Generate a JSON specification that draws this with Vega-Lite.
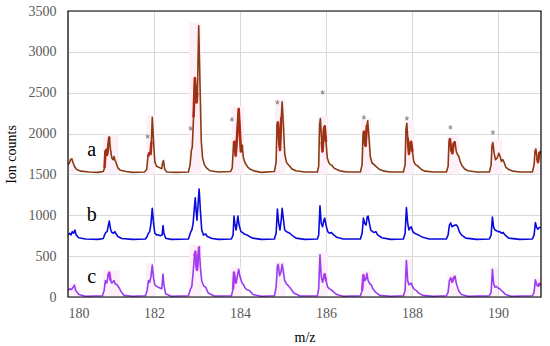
{
  "$schema": "https://vega.github.io/schema/vega-lite/v6.json",
  "autosize": {"type": "none"},
  "width": 473,
  "height": 286,
  "padding": {"left": 68, "top": 11, "right": 9, "bottom": 49},
  "background": "white",
  "config": {
    "view": {"stroke": null},
    "font": "Liberation Serif",
    "axis": {
      "labelFont": "Liberation Serif",
      "titleFont": "Liberation Serif",
      "labelFontSize": 14,
      "titleFontSize": 14,
      "titleFontWeight": "normal",
      "labelColor": "#595959",
      "titleColor": "#000000",
      "gridColor": "#d9d9d9",
      "gridWidth": 1,
      "domain": false,
      "ticks": false
    }
  },
  "datasets": {
    "bands": [
      {"t": "a", "x1": 180.0, "x2": 180.16, "y1": 1500, "y2": 1710},
      {"t": "a", "x1": 180.82, "x2": 181.18, "y1": 1500, "y2": 1990},
      {"t": "a", "x1": 181.82, "x2": 182.02, "y1": 1500, "y2": 2230},
      {"t": "a", "x1": 182.82, "x2": 183.1, "y1": 1500, "y2": 3360},
      {"t": "a", "x1": 183.8, "x2": 184.1, "y1": 1500, "y2": 2330},
      {"t": "a", "x1": 184.82, "x2": 185.05, "y1": 1500, "y2": 2420},
      {"t": "a", "x1": 185.82, "x2": 186.05, "y1": 1500, "y2": 2220},
      {"t": "a", "x1": 186.82, "x2": 187.05, "y1": 1500, "y2": 2190},
      {"t": "a", "x1": 187.82, "x2": 188.05, "y1": 1500, "y2": 2160},
      {"t": "a", "x1": 188.82, "x2": 189.1, "y1": 1500, "y2": 1970},
      {"t": "a", "x1": 189.82, "x2": 190.1, "y1": 1500, "y2": 1920},
      {"t": "a", "x1": 190.82, "x2": 191.0, "y1": 1500, "y2": 1840},
      {"t": "c", "x1": 180.0, "x2": 180.18, "y1": -10, "y2": 170},
      {"t": "c", "x1": 180.82, "x2": 181.2, "y1": -10, "y2": 330},
      {"t": "c", "x1": 181.82, "x2": 182.02, "y1": -10, "y2": 420},
      {"t": "c", "x1": 182.82, "x2": 183.12, "y1": -10, "y2": 640},
      {"t": "c", "x1": 183.8, "x2": 184.05, "y1": -10, "y2": 370},
      {"t": "c", "x1": 184.82, "x2": 185.05, "y1": -10, "y2": 430},
      {"t": "c", "x1": 185.8, "x2": 186.05, "y1": -10, "y2": 540},
      {"t": "c", "x1": 186.82, "x2": 187.05, "y1": -10, "y2": 320},
      {"t": "c", "x1": 187.82, "x2": 188.0, "y1": -10, "y2": 470},
      {"t": "c", "x1": 188.82, "x2": 189.05, "y1": -10, "y2": 285},
      {"t": "c", "x1": 189.82, "x2": 190.0, "y1": -10, "y2": 370},
      {"t": "c", "x1": 190.82, "x2": 191.0, "y1": -10, "y2": 240}
    ],
    "spec": [
      {"t":"a","x":180.0,"y":1620},{"t":"a","x":180.03,"y":1640},{"t":"a","x":180.06,"y":1680},{"t":"a","x":180.09,"y":1690},{"t":"a","x":180.12,"y":1640},{"t":"a","x":180.15,"y":1600},{"t":"a","x":180.2,"y":1560},{"t":"a","x":180.3,"y":1540},{"t":"a","x":180.5,"y":1530},{"t":"a","x":180.7,"y":1525},
      {"t":"a","x":180.82,"y":1535},{"t":"a","x":180.85,"y":1580},{"t":"a","x":180.87,"y":1780},{"t":"a","x":180.89,"y":1800},{"t":"a","x":180.91,"y":1740},{"t":"a","x":180.93,"y":1820},{"t":"a","x":180.96,"y":1960},{"t":"a","x":180.99,"y":1800},{"t":"a","x":181.02,"y":1700},{"t":"a","x":181.05,"y":1680},{"t":"a","x":181.07,"y":1720},{"t":"a","x":181.09,"y":1680},{"t":"a","x":181.12,"y":1640},{"t":"a","x":181.16,"y":1580},{"t":"a","x":181.22,"y":1550},{"t":"a","x":181.35,"y":1535},{"t":"a","x":181.5,"y":1525},
      {"t":"a","x":181.78,"y":1530},{"t":"a","x":181.83,"y":1560},{"t":"a","x":181.86,"y":1720},{"t":"a","x":181.89,"y":1760},{"t":"a","x":181.92,"y":1750},{"t":"a","x":181.94,"y":1900},{"t":"a","x":181.96,"y":2200},{"t":"a","x":181.99,"y":1900},{"t":"a","x":182.02,"y":1650},{"t":"a","x":182.06,"y":1600},{"t":"a","x":182.1,"y":1590},{"t":"a","x":182.14,"y":1580},{"t":"a","x":182.18,"y":1570},{"t":"a","x":182.2,"y":1640},{"t":"a","x":182.22,"y":1670},{"t":"a","x":182.25,"y":1560},{"t":"a","x":182.3,"y":1530},{"t":"a","x":182.5,"y":1525},
      {"t":"a","x":182.8,"y":1530},{"t":"a","x":182.84,"y":1620},{"t":"a","x":182.87,"y":1800},{"t":"a","x":182.89,"y":1830},{"t":"a","x":182.92,"y":2200},{"t":"a","x":182.95,"y":2680},{"t":"a","x":182.97,"y":2550},{"t":"a","x":182.99,"y":2380},{"t":"a","x":183.01,"y":2500},{"t":"a","x":183.04,"y":3320},{"t":"a","x":183.07,"y":2600},{"t":"a","x":183.1,"y":1900},{"t":"a","x":183.13,"y":1700},{"t":"a","x":183.17,"y":1620},{"t":"a","x":183.22,"y":1580},{"t":"a","x":183.3,"y":1545},{"t":"a","x":183.5,"y":1530},
      {"t":"a","x":183.78,"y":1535},{"t":"a","x":183.82,"y":1580},{"t":"a","x":183.85,"y":1880},{"t":"a","x":183.87,"y":1900},{"t":"a","x":183.9,"y":1730},{"t":"a","x":183.93,"y":1950},{"t":"a","x":183.97,"y":2300},{"t":"a","x":184.0,"y":2000},{"t":"a","x":184.02,"y":1780},{"t":"a","x":184.05,"y":1860},{"t":"a","x":184.08,"y":1700},{"t":"a","x":184.12,"y":1640},{"t":"a","x":184.18,"y":1590},{"t":"a","x":184.25,"y":1560},{"t":"a","x":184.35,"y":1540},{"t":"a","x":184.5,"y":1525},
      {"t":"a","x":184.8,"y":1535},{"t":"a","x":184.84,"y":1650},{"t":"a","x":184.86,"y":2100},{"t":"a","x":184.88,"y":2145},{"t":"a","x":184.9,"y":1950},{"t":"a","x":184.93,"y":1800},{"t":"a","x":184.96,"y":2200},{"t":"a","x":184.98,"y":2390},{"t":"a","x":185.01,"y":2100},{"t":"a","x":185.04,"y":1750},{"t":"a","x":185.08,"y":1650},{"t":"a","x":185.12,"y":1620},{"t":"a","x":185.16,"y":1600},{"t":"a","x":185.2,"y":1570},{"t":"a","x":185.3,"y":1545},{"t":"a","x":185.5,"y":1530},
      {"t":"a","x":185.8,"y":1530},{"t":"a","x":185.83,"y":1600},{"t":"a","x":185.85,"y":2100},{"t":"a","x":185.87,"y":2185},{"t":"a","x":185.9,"y":1900},{"t":"a","x":185.92,"y":1780},{"t":"a","x":185.95,"y":2050},{"t":"a","x":185.97,"y":2090},{"t":"a","x":186.0,"y":1900},{"t":"a","x":186.03,"y":1700},{"t":"a","x":186.07,"y":1640},{"t":"a","x":186.1,"y":1620},{"t":"a","x":186.14,"y":1610},{"t":"a","x":186.18,"y":1580},{"t":"a","x":186.25,"y":1560},{"t":"a","x":186.35,"y":1540},{"t":"a","x":186.5,"y":1530},
      {"t":"a","x":186.8,"y":1530},{"t":"a","x":186.84,"y":1620},{"t":"a","x":186.86,"y":1980},{"t":"a","x":186.88,"y":2030},{"t":"a","x":186.9,"y":1880},{"t":"a","x":186.92,"y":1850},{"t":"a","x":186.95,"y":2100},{"t":"a","x":186.97,"y":2155},{"t":"a","x":187.0,"y":1950},{"t":"a","x":187.03,"y":1720},{"t":"a","x":187.07,"y":1640},{"t":"a","x":187.12,"y":1620},{"t":"a","x":187.18,"y":1590},{"t":"a","x":187.25,"y":1560},{"t":"a","x":187.35,"y":1540},{"t":"a","x":187.5,"y":1530},
      {"t":"a","x":187.8,"y":1530},{"t":"a","x":187.84,"y":1620},{"t":"a","x":187.86,"y":2050},{"t":"a","x":187.88,"y":2125},{"t":"a","x":187.9,"y":1950},{"t":"a","x":187.93,"y":1750},{"t":"a","x":187.96,"y":1880},{"t":"a","x":187.98,"y":1900},{"t":"a","x":188.01,"y":1780},{"t":"a","x":188.04,"y":1660},{"t":"a","x":188.08,"y":1620},{"t":"a","x":188.12,"y":1610},{"t":"a","x":188.16,"y":1590},{"t":"a","x":188.22,"y":1560},{"t":"a","x":188.3,"y":1540},{"t":"a","x":188.5,"y":1530},
      {"t":"a","x":188.8,"y":1530},{"t":"a","x":188.84,"y":1600},{"t":"a","x":188.86,"y":1900},{"t":"a","x":188.88,"y":1940},{"t":"a","x":188.91,"y":1800},{"t":"a","x":188.94,"y":1760},{"t":"a","x":188.97,"y":1880},{"t":"a","x":189.0,"y":1900},{"t":"a","x":189.03,"y":1780},{"t":"a","x":189.06,"y":1740},{"t":"a","x":189.09,"y":1720},{"t":"a","x":189.12,"y":1660},{"t":"a","x":189.16,"y":1610},{"t":"a","x":189.22,"y":1570},{"t":"a","x":189.3,"y":1545},{"t":"a","x":189.5,"y":1530},
      {"t":"a","x":189.8,"y":1530},{"t":"a","x":189.84,"y":1620},{"t":"a","x":189.86,"y":1850},{"t":"a","x":189.88,"y":1890},{"t":"a","x":189.91,"y":1760},{"t":"a","x":189.94,"y":1680},{"t":"a","x":189.98,"y":1700},{"t":"a","x":190.02,"y":1760},{"t":"a","x":190.05,"y":1720},{"t":"a","x":190.08,"y":1660},{"t":"a","x":190.11,"y":1680},{"t":"a","x":190.14,"y":1650},{"t":"a","x":190.18,"y":1590},{"t":"a","x":190.25,"y":1560},{"t":"a","x":190.35,"y":1540},{"t":"a","x":190.5,"y":1530},
      {"t":"a","x":190.8,"y":1530},{"t":"a","x":190.84,"y":1620},{"t":"a","x":190.86,"y":1780},{"t":"a","x":190.88,"y":1810},{"t":"a","x":190.91,"y":1700},{"t":"a","x":190.93,"y":1650},{"t":"a","x":190.96,"y":1760},{"t":"a","x":191.0,"y":1780},

      {"t":"b","x":180.0,"y":760},{"t":"b","x":180.04,"y":780},{"t":"b","x":180.07,"y":760},{"t":"b","x":180.1,"y":800},{"t":"b","x":180.13,"y":780},{"t":"b","x":180.16,"y":820},{"t":"b","x":180.19,"y":760},{"t":"b","x":180.25,"y":725},{"t":"b","x":180.4,"y":710},{"t":"b","x":180.7,"y":705},
      {"t":"b","x":180.82,"y":715},{"t":"b","x":180.85,"y":760},{"t":"b","x":180.88,"y":790},{"t":"b","x":180.91,"y":800},{"t":"b","x":180.94,"y":880},{"t":"b","x":180.96,"y":930},{"t":"b","x":180.99,"y":830},{"t":"b","x":181.02,"y":790},{"t":"b","x":181.06,"y":780},{"t":"b","x":181.09,"y":800},{"t":"b","x":181.12,"y":770},{"t":"b","x":181.16,"y":740},{"t":"b","x":181.25,"y":715},{"t":"b","x":181.5,"y":705},
      {"t":"b","x":181.8,"y":710},{"t":"b","x":181.84,"y":740},{"t":"b","x":181.87,"y":780},{"t":"b","x":181.9,"y":800},{"t":"b","x":181.93,"y":900},{"t":"b","x":181.96,"y":1085},{"t":"b","x":181.99,"y":900},{"t":"b","x":182.02,"y":780},{"t":"b","x":182.06,"y":760},{"t":"b","x":182.1,"y":760},{"t":"b","x":182.15,"y":750},{"t":"b","x":182.19,"y":760},{"t":"b","x":182.21,"y":873},{"t":"b","x":182.23,"y":780},{"t":"b","x":182.27,"y":720},{"t":"b","x":182.4,"y":705},
      {"t":"b","x":182.8,"y":710},{"t":"b","x":182.85,"y":790},{"t":"b","x":182.88,"y":820},{"t":"b","x":182.91,"y":900},{"t":"b","x":182.94,"y":1100},{"t":"b","x":182.96,"y":1215},{"t":"b","x":182.98,"y":1050},{"t":"b","x":183.0,"y":940},{"t":"b","x":183.02,"y":1100},{"t":"b","x":183.05,"y":1320},{"t":"b","x":183.08,"y":1050},{"t":"b","x":183.11,"y":820},{"t":"b","x":183.15,"y":760},{"t":"b","x":183.2,"y":770},{"t":"b","x":183.24,"y":740},{"t":"b","x":183.35,"y":715},{"t":"b","x":183.5,"y":705},
      {"t":"b","x":183.8,"y":710},{"t":"b","x":183.84,"y":760},{"t":"b","x":183.86,"y":990},{"t":"b","x":183.88,"y":900},{"t":"b","x":183.91,"y":820},{"t":"b","x":183.93,"y":900},{"t":"b","x":183.95,"y":990},{"t":"b","x":183.98,"y":880},{"t":"b","x":184.02,"y":800},{"t":"b","x":184.06,"y":790},{"t":"b","x":184.1,"y":770},{"t":"b","x":184.16,"y":760},{"t":"b","x":184.22,"y":740},{"t":"b","x":184.3,"y":720},{"t":"b","x":184.5,"y":705},
      {"t":"b","x":184.8,"y":710},{"t":"b","x":184.84,"y":780},{"t":"b","x":184.87,"y":1075},{"t":"b","x":184.9,"y":900},{"t":"b","x":184.93,"y":820},{"t":"b","x":184.96,"y":950},{"t":"b","x":184.98,"y":1085},{"t":"b","x":185.01,"y":950},{"t":"b","x":185.04,"y":820},{"t":"b","x":185.08,"y":800},{"t":"b","x":185.12,"y":790},{"t":"b","x":185.16,"y":780},{"t":"b","x":185.22,"y":750},{"t":"b","x":185.3,"y":720},{"t":"b","x":185.5,"y":705},
      {"t":"b","x":185.8,"y":710},{"t":"b","x":185.83,"y":760},{"t":"b","x":185.86,"y":1115},{"t":"b","x":185.89,"y":900},{"t":"b","x":185.92,"y":860},{"t":"b","x":185.95,"y":940},{"t":"b","x":185.97,"y":965},{"t":"b","x":186.0,"y":880},{"t":"b","x":186.04,"y":800},{"t":"b","x":186.08,"y":780},{"t":"b","x":186.12,"y":790},{"t":"b","x":186.18,"y":760},{"t":"b","x":186.25,"y":730},{"t":"b","x":186.4,"y":710},
      {"t":"b","x":186.8,"y":710},{"t":"b","x":186.84,"y":780},{"t":"b","x":186.87,"y":965},{"t":"b","x":186.9,"y":900},{"t":"b","x":186.93,"y":880},{"t":"b","x":186.96,"y":980},{"t":"b","x":186.98,"y":990},{"t":"b","x":187.01,"y":900},{"t":"b","x":187.04,"y":820},{"t":"b","x":187.08,"y":800},{"t":"b","x":187.12,"y":790},{"t":"b","x":187.16,"y":800},{"t":"b","x":187.2,"y":760},{"t":"b","x":187.3,"y":725},{"t":"b","x":187.5,"y":705},
      {"t":"b","x":187.8,"y":710},{"t":"b","x":187.84,"y":780},{"t":"b","x":187.87,"y":1095},{"t":"b","x":187.9,"y":900},{"t":"b","x":187.93,"y":820},{"t":"b","x":187.96,"y":850},{"t":"b","x":187.98,"y":860},{"t":"b","x":188.02,"y":800},{"t":"b","x":188.06,"y":780},{"t":"b","x":188.1,"y":770},{"t":"b","x":188.15,"y":760},{"t":"b","x":188.25,"y":730},{"t":"b","x":188.4,"y":710},
      {"t":"b","x":188.8,"y":710},{"t":"b","x":188.84,"y":760},{"t":"b","x":188.87,"y":880},{"t":"b","x":188.9,"y":905},{"t":"b","x":188.93,"y":860},{"t":"b","x":188.96,"y":870},{"t":"b","x":189.0,"y":880},{"t":"b","x":189.04,"y":880},{"t":"b","x":189.07,"y":850},{"t":"b","x":189.1,"y":800},{"t":"b","x":189.15,"y":760},{"t":"b","x":189.25,"y":720},{"t":"b","x":189.5,"y":705},
      {"t":"b","x":189.8,"y":710},{"t":"b","x":189.84,"y":760},{"t":"b","x":189.87,"y":977},{"t":"b","x":189.9,"y":850},{"t":"b","x":189.93,"y":820},{"t":"b","x":189.97,"y":810},{"t":"b","x":190.0,"y":800},{"t":"b","x":190.04,"y":800},{"t":"b","x":190.08,"y":780},{"t":"b","x":190.12,"y":790},{"t":"b","x":190.16,"y":760},{"t":"b","x":190.25,"y":720},{"t":"b","x":190.5,"y":705},
      {"t":"b","x":190.8,"y":710},{"t":"b","x":190.84,"y":760},{"t":"b","x":190.87,"y":910},{"t":"b","x":190.9,"y":850},{"t":"b","x":190.93,"y":830},{"t":"b","x":190.96,"y":850},{"t":"b","x":191.0,"y":850},

      {"t":"c","x":180.0,"y":80},{"t":"c","x":180.04,"y":100},{"t":"c","x":180.08,"y":90},{"t":"c","x":180.12,"y":120},{"t":"c","x":180.15,"y":145},{"t":"c","x":180.18,"y":80},{"t":"c","x":180.25,"y":30},{"t":"c","x":180.4,"y":10},
      {"t":"c","x":180.8,"y":15},{"t":"c","x":180.84,"y":80},{"t":"c","x":180.87,"y":200},{"t":"c","x":180.9,"y":170},{"t":"c","x":180.93,"y":250},{"t":"c","x":180.96,"y":300},{"t":"c","x":180.99,"y":200},{"t":"c","x":181.02,"y":170},{"t":"c","x":181.05,"y":190},{"t":"c","x":181.07,"y":200},{"t":"c","x":181.1,"y":160},{"t":"c","x":181.14,"y":150},{"t":"c","x":181.18,"y":120},{"t":"c","x":181.24,"y":60},{"t":"c","x":181.3,"y":20},{"t":"c","x":181.5,"y":10},
      {"t":"c","x":181.8,"y":15},{"t":"c","x":181.84,"y":80},{"t":"c","x":181.87,"y":200},{"t":"c","x":181.9,"y":180},{"t":"c","x":181.93,"y":250},{"t":"c","x":181.96,"y":390},{"t":"c","x":181.99,"y":230},{"t":"c","x":182.02,"y":150},{"t":"c","x":182.06,"y":130},{"t":"c","x":182.1,"y":120},{"t":"c","x":182.14,"y":110},{"t":"c","x":182.18,"y":100},{"t":"c","x":182.21,"y":280},{"t":"c","x":182.23,"y":150},{"t":"c","x":182.27,"y":40},{"t":"c","x":182.4,"y":10},
      {"t":"c","x":182.8,"y":15},{"t":"c","x":182.85,"y":100},{"t":"c","x":182.88,"y":130},{"t":"c","x":182.91,"y":300},{"t":"c","x":182.94,"y":500},{"t":"c","x":182.96,"y":555},{"t":"c","x":182.98,"y":400},{"t":"c","x":183.0,"y":330},{"t":"c","x":183.02,"y":450},{"t":"c","x":183.05,"y":615},{"t":"c","x":183.08,"y":350},{"t":"c","x":183.11,"y":200},{"t":"c","x":183.15,"y":140},{"t":"c","x":183.2,"y":120},{"t":"c","x":183.26,"y":50},{"t":"c","x":183.4,"y":12},
      {"t":"c","x":183.8,"y":15},{"t":"c","x":183.84,"y":100},{"t":"c","x":183.86,"y":300},{"t":"c","x":183.88,"y":220},{"t":"c","x":183.91,"y":170},{"t":"c","x":183.94,"y":260},{"t":"c","x":183.97,"y":340},{"t":"c","x":184.0,"y":250},{"t":"c","x":184.04,"y":180},{"t":"c","x":184.08,"y":150},{"t":"c","x":184.12,"y":110},{"t":"c","x":184.16,"y":90},{"t":"c","x":184.22,"y":80},{"t":"c","x":184.3,"y":30},{"t":"c","x":184.5,"y":10},
      {"t":"c","x":184.8,"y":15},{"t":"c","x":184.84,"y":120},{"t":"c","x":184.87,"y":380},{"t":"c","x":184.89,"y":400},{"t":"c","x":184.92,"y":260},{"t":"c","x":184.95,"y":300},{"t":"c","x":184.98,"y":400},{"t":"c","x":185.01,"y":300},{"t":"c","x":185.04,"y":200},{"t":"c","x":185.08,"y":160},{"t":"c","x":185.12,"y":140},{"t":"c","x":185.18,"y":100},{"t":"c","x":185.25,"y":50},{"t":"c","x":185.4,"y":12},
      {"t":"c","x":185.8,"y":15},{"t":"c","x":185.83,"y":100},{"t":"c","x":185.86,"y":515},{"t":"c","x":185.89,"y":250},{"t":"c","x":185.92,"y":180},{"t":"c","x":185.95,"y":250},{"t":"c","x":185.97,"y":280},{"t":"c","x":186.0,"y":200},{"t":"c","x":186.04,"y":120},{"t":"c","x":186.08,"y":100},{"t":"c","x":186.12,"y":90},{"t":"c","x":186.18,"y":60},{"t":"c","x":186.25,"y":30},{"t":"c","x":186.4,"y":10},
      {"t":"c","x":186.8,"y":15},{"t":"c","x":186.84,"y":80},{"t":"c","x":186.87,"y":270},{"t":"c","x":186.9,"y":200},{"t":"c","x":186.93,"y":220},{"t":"c","x":186.95,"y":290},{"t":"c","x":186.98,"y":200},{"t":"c","x":187.02,"y":160},{"t":"c","x":187.05,"y":150},{"t":"c","x":187.09,"y":100},{"t":"c","x":187.15,"y":60},{"t":"c","x":187.25,"y":20},{"t":"c","x":187.5,"y":10},
      {"t":"c","x":187.8,"y":15},{"t":"c","x":187.84,"y":80},{"t":"c","x":187.87,"y":445},{"t":"c","x":187.9,"y":200},{"t":"c","x":187.93,"y":150},{"t":"c","x":187.96,"y":160},{"t":"c","x":187.98,"y":170},{"t":"c","x":188.02,"y":120},{"t":"c","x":188.06,"y":90},{"t":"c","x":188.1,"y":80},{"t":"c","x":188.15,"y":50},{"t":"c","x":188.25,"y":20},{"t":"c","x":188.5,"y":10},
      {"t":"c","x":188.8,"y":15},{"t":"c","x":188.84,"y":60},{"t":"c","x":188.87,"y":200},{"t":"c","x":188.9,"y":235},{"t":"c","x":188.93,"y":180},{"t":"c","x":188.96,"y":220},{"t":"c","x":189.0,"y":255},{"t":"c","x":189.03,"y":170},{"t":"c","x":189.07,"y":100},{"t":"c","x":189.1,"y":60},{"t":"c","x":189.15,"y":30},{"t":"c","x":189.3,"y":10},
      {"t":"c","x":189.8,"y":15},{"t":"c","x":189.84,"y":60},{"t":"c","x":189.87,"y":340},{"t":"c","x":189.9,"y":160},{"t":"c","x":189.93,"y":120},{"t":"c","x":189.96,"y":130},{"t":"c","x":190.0,"y":110},{"t":"c","x":190.04,"y":100},{"t":"c","x":190.08,"y":80},{"t":"c","x":190.12,"y":60},{"t":"c","x":190.18,"y":30},{"t":"c","x":190.3,"y":10},
      {"t":"c","x":190.8,"y":15},{"t":"c","x":190.84,"y":60},{"t":"c","x":190.87,"y":210},{"t":"c","x":190.9,"y":150},{"t":"c","x":190.93,"y":130},{"t":"c","x":190.96,"y":160},{"t":"c","x":191.0,"y":150}
    ],
    "hl": [
      {"t":"a","s":"a1","x":180.85,"y":1580},{"t":"a","s":"a1","x":180.87,"y":1780},{"t":"a","s":"a1","x":180.89,"y":1800},{"t":"a","s":"a1","x":180.91,"y":1740},{"t":"a","s":"a1","x":180.93,"y":1820},{"t":"a","s":"a1","x":180.96,"y":1960},
      {"t":"a","s":"a2","x":181.86,"y":1720},{"t":"a","s":"a2","x":181.89,"y":1760},{"t":"a","s":"a2","x":181.92,"y":1750},{"t":"a","s":"a2","x":181.94,"y":1900},
      {"t":"a","s":"a3","x":182.92,"y":2200},{"t":"a","s":"a3","x":182.95,"y":2680},{"t":"a","s":"a3","x":182.97,"y":2550},{"t":"a","s":"a3","x":182.99,"y":2380},{"t":"a","s":"a3","x":183.01,"y":2500},
      {"t":"a","s":"a4","x":183.85,"y":1880},{"t":"a","s":"a4","x":183.87,"y":1900},{"t":"a","s":"a4","x":183.9,"y":1730},{"t":"a","s":"a4","x":183.93,"y":1950},{"t":"a","s":"a4","x":183.97,"y":2300},{"t":"a","s":"a4","x":184.0,"y":2000},{"t":"a","s":"a4","x":184.02,"y":1780},{"t":"a","s":"a4","x":184.05,"y":1860},
      {"t":"a","s":"a5","x":184.88,"y":2145},{"t":"a","s":"a5","x":184.9,"y":1950},{"t":"a","s":"a5","x":184.93,"y":1800},{"t":"a","s":"a5","x":184.96,"y":2200},
      {"t":"a","s":"a6","x":185.9,"y":1900},{"t":"a","s":"a6","x":185.92,"y":1780},{"t":"a","s":"a6","x":185.95,"y":2050},{"t":"a","s":"a6","x":185.97,"y":2090},{"t":"a","s":"a6","x":186.0,"y":1900},
      {"t":"a","s":"a7","x":186.88,"y":2030},{"t":"a","s":"a7","x":186.9,"y":1880},{"t":"a","s":"a7","x":186.92,"y":1850},{"t":"a","s":"a7","x":186.95,"y":2100},
      {"t":"a","s":"a8","x":187.9,"y":1950},{"t":"a","s":"a8","x":187.93,"y":1750},{"t":"a","s":"a8","x":187.96,"y":1880},{"t":"a","s":"a8","x":187.98,"y":1900},{"t":"a","s":"a8","x":188.01,"y":1780},
      {"t":"a","s":"a9","x":188.88,"y":1940},{"t":"a","s":"a9","x":188.91,"y":1800},{"t":"a","s":"a9","x":188.94,"y":1760},{"t":"a","s":"a9","x":188.97,"y":1880},{"t":"a","s":"a9","x":189.0,"y":1900},
      {"t":"a","s":"a10","x":190.91,"y":1700},{"t":"a","s":"a10","x":190.93,"y":1650},{"t":"a","s":"a10","x":190.96,"y":1760},{"t":"a","s":"a10","x":191.0,"y":1780},
      {"t":"c","s":"c1","x":180.93,"y":250},{"t":"c","s":"c1","x":180.96,"y":300},{"t":"c","s":"c1","x":180.99,"y":200},
      {"t":"c","s":"c2","x":182.94,"y":500},{"t":"c","s":"c2","x":182.96,"y":555},{"t":"c","s":"c2","x":182.98,"y":400},{"t":"c","s":"c2","x":183.0,"y":330},{"t":"c","s":"c2","x":183.02,"y":450},{"t":"c","s":"c2","x":183.05,"y":615},
      {"t":"c","s":"c3","x":183.84,"y":100},{"t":"c","s":"c3","x":183.86,"y":300},{"t":"c","s":"c3","x":183.88,"y":220},{"t":"c","s":"c3","x":183.91,"y":170},
      {"t":"c","s":"c4","x":185.95,"y":250},{"t":"c","s":"c4","x":185.97,"y":280},{"t":"c","s":"c4","x":186.0,"y":200},
      {"t":"c","s":"c5","x":186.84,"y":80},{"t":"c","s":"c5","x":186.87,"y":270},{"t":"c","s":"c5","x":186.9,"y":200},
      {"t":"c","s":"c6","x":188.93,"y":180},{"t":"c","s":"c6","x":188.96,"y":220},{"t":"c","s":"c6","x":189.0,"y":255},
      {"t":"c","s":"c7","x":190.93,"y":130},{"t":"c","s":"c7","x":190.96,"y":160},{"t":"c","s":"c7","x":191.0,"y":150}
    ],
    "stars": [
      {"x":181.85,"y":1970},{"x":182.85,"y":2070},{"x":183.81,"y":2175},{"x":184.87,"y":2390},{"x":185.92,"y":2505},{"x":186.88,"y":2205},{"x":187.88,"y":2190},{"x":188.89,"y":2080},{"x":189.88,"y":2025}
    ],
    "labels": [
      {"x":180.55,"y":1800,"txt":"a"},{"x":180.55,"y":1000,"txt":"b"},{"x":180.55,"y":245,"txt":"c"}
    ],
    "frame": [
      {"x1": 180, "x2": 191, "y1": 0, "y2": 3500}
    ]
  },
  "layer": [
    {
      "data": {"name": "bands"},
      "mark": {"type": "rect", "color": "#fdf0f8", "clip": true},
      "encoding": {
        "x": {"field": "x1", "type": "quantitative", "scale": {"domain": [180, 191], "nice": false, "zero": false}, "axis": {"values": [180,182,184,186,188,190], "format": "d", "title": "m/z", "labelPadding": 9, "titlePadding": 10}},
        "x2": {"field": "x2"},
        "y": {"field": "y1", "type": "quantitative", "scale": {"domain": [0, 3500], "nice": false}, "axis": {"values": [0,500,1000,1500,2000,2500,3000,3500], "format": "d", "title": "Ion counts", "labelPadding": 12, "titlePadding": 10}},
        "y2": {"field": "y2"}
      }
    },
    {
      "data": {"name": "hl"},
      "mark": {"type": "line", "strokeWidth": 2.6, "clip": true, "strokeJoin": "round"},
      "encoding": {
        "x": {"field": "x", "type": "quantitative"},
        "y": {"field": "y", "type": "quantitative"},
        "detail": {"field": "s"},
        "color": {"field": "t", "type": "nominal", "scale": {"domain": ["a", "c"], "range": ["#e8141c", "#e83ee8"]}, "legend": null}
      }
    },
    {
      "data": {"name": "spec"},
      "mark": {"type": "line", "strokeWidth": 1.6, "clip": true, "strokeJoin": "round"},
      "encoding": {
        "x": {"field": "x", "type": "quantitative"},
        "y": {"field": "y", "type": "quantitative"},
        "stroke": {"field": "t", "type": "nominal", "scale": {"domain": ["a", "b", "c"], "range": ["#8b3a12", "#0a0ae0", "#9a3cf0"]}, "legend": null}
      }
    },
    {
      "data": {"name": "stars"},
      "mark": {"type": "text", "text": "*", "fontSize": 12, "color": "#707070", "baseline": "middle", "dy": 3, "font": "Liberation Sans"},
      "encoding": {
        "x": {"field": "x", "type": "quantitative"},
        "y": {"field": "y", "type": "quantitative"}
      }
    },
    {
      "data": {"name": "labels"},
      "mark": {"type": "text", "fontSize": 20, "color": "#000000", "baseline": "middle", "font": "Liberation Serif"},
      "encoding": {
        "x": {"field": "x", "type": "quantitative"},
        "y": {"field": "y", "type": "quantitative"},
        "text": {"field": "txt"}
      }
    },
    {
      "data": {"name": "frame"},
      "mark": {"type": "rect", "fill": null, "stroke": "#000000", "strokeWidth": 1.2},
      "encoding": {
        "x": {"field": "x1", "type": "quantitative"},
        "x2": {"field": "x2"},
        "y": {"field": "y1", "type": "quantitative"},
        "y2": {"field": "y2"}
      }
    }
  ]
}
